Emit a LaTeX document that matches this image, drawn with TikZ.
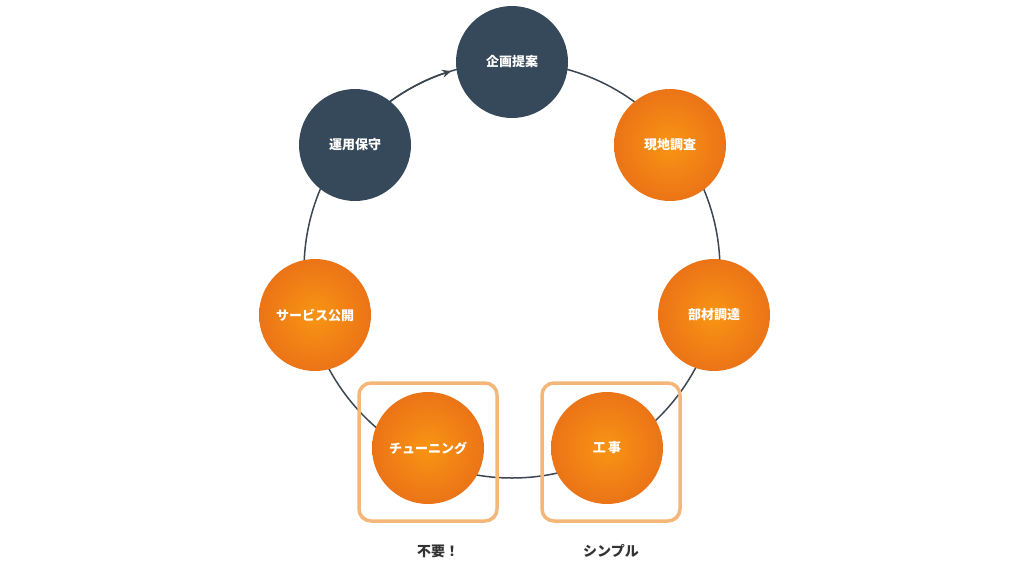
\documentclass[tikz,border=0pt]{standalone}
\usepackage{fontspec}
\newfontfamily\jp{Noto Sans CJK JP}
\usetikzlibrary{arrows.meta}
\definecolor{dk}{HTML}{36495A}
\definecolor{og}{HTML}{F77A18}
\definecolor{ogl}{HTML}{F4B779}
\definecolor{ln}{HTML}{3C4650}
\tikzset{
 x=1pt,y=-1pt,
 dark/.style={circle,fill=dk,minimum size=112pt,inner sep=0pt,text=white,font=\jp\bfseries\fontsize{13}{15}\selectfont},
 orng/.style={circle,inner color=og!80!yellow,outer color=og!95!black,minimum size=112pt,inner sep=0pt,text=white,font=\jp\bfseries\fontsize{13}{15}\selectfont},
 hl/.style={draw=ogl,line width=3.5pt,rounded corners=12pt,minimum size=138pt},
 lab/.style={font=\jp\bfseries\fontsize{14}{16}\selectfont,text=black!80}
}
\begin{document}
\begin{tikzpicture}
\useasboundingbox (0,0) rectangle (1024,576);
\coordinate (c) at (512,270);
\draw[ln,line width=1.5pt] (c) circle[radius=208];
\draw[ln,line width=1.5pt,-{Stealth[length=9pt,width=8pt]}] (c) ++(232:208) arc[start angle=232,end angle=253,radius=208];
\node[hl] (b1) at (428,452) {};
\node[hl] (b2) at (611,452) {};
\node[dark] (n1) at (512,62) {企画提案};
\node[orng] (n2) at (670,145) {現地調査};
\node[orng] (n3) at (714,315) {部材調達};
\node[orng] (n4) at (607,448) {工\,事};
\node[orng] (n5) at (428,448) {チューニング};
\node[orng] (n6) at (315,315) {サービス公開};
\node[dark] (n7) at (355,145) {運用保守};
\node[lab] (l1) at (438,551) {不要！};
\node[lab] (l2) at (611,551) {シンプル};
\end{tikzpicture}
\end{document}
